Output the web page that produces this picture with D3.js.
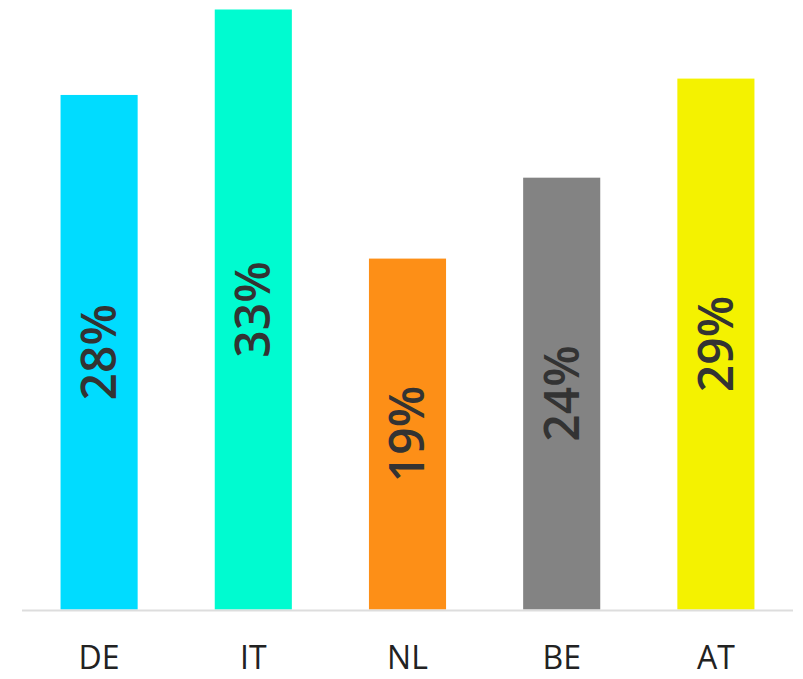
<!DOCTYPE html>
<html lang="en">
<head>
<meta charset="UTF-8">
<title>Share by country</title>
<script src="https://d3js.org/d3.v7.min.js"></script>
<style>
  body { margin: 0; background: #fff; }
  .bar-label { font-family: "Open Sans", sans-serif; font-size: 48px; font-weight: 600; fill: #333; }
  .x-label { font-family: "Open Sans", sans-serif; font-size: 32px; fill: #222; }
</style>
</head>
<body>
<svg id="chart" width="803" height="679"></svg>
<script>
const countries = ["DE", "IT", "NL", "BE", "AT"];
const shares = [28.3, 33.0, 19.3, 23.75, 29.2];
const labels = ["28%", "33%", "19%", "24%", "29%"];
const colors = ["#00dcff", "#00fbd0", "#fd8f17", "#838383", "#f4f200"];

const svg = d3.select("#chart");
const baseY = 609.5;

const x = d3.scaleBand()
    .domain(countries)
    .range([22, 793])
    .paddingInner(0.5)
    .paddingOuter(0.25);

const y = d3.scaleLinear()
    .domain([0, 33])
    .range([baseY, 9.5]);

svg.append("g")
    .selectAll("rect")
    .data(countries)
    .join("rect")
    .attr("x", d => x(d))
    .attr("width", x.bandwidth())
    .attr("y", (d, i) => y(shares[i]))
    .attr("height", (d, i) => baseY - y(shares[i]))
    .attr("fill", (d, i) => colors[i]);

// baseline
svg.append("line")
    .attr("x1", 22).attr("x2", 793)
    .attr("y1", baseY + 1).attr("y2", baseY + 1)
    .attr("stroke", "#ddd")
    .attr("stroke-width", 2);

// value labels, rotated, centred in each bar
svg.append("g")
    .selectAll("text")
    .data(countries)
    .join("text")
    .attr("class", "bar-label")
    .attr("text-anchor", "middle")
    .attr("dy", "0.35em")
    .attr("transform", (d, i) => {
        const cx = x(d) + x.bandwidth() / 2;
        const cy = (y(shares[i]) + baseY) / 2;
        return `translate(${cx},${cy}) rotate(-90)`;
    })
    .text((d, i) => labels[i]);

// category labels
svg.append("g")
    .selectAll("text")
    .data(countries)
    .join("text")
    .attr("class", "x-label")
    .attr("text-anchor", "middle")
    .attr("x", d => x(d) + x.bandwidth() / 2)
    .attr("y", 669)
    .text(d => d);
</script>
</body>
</html>
